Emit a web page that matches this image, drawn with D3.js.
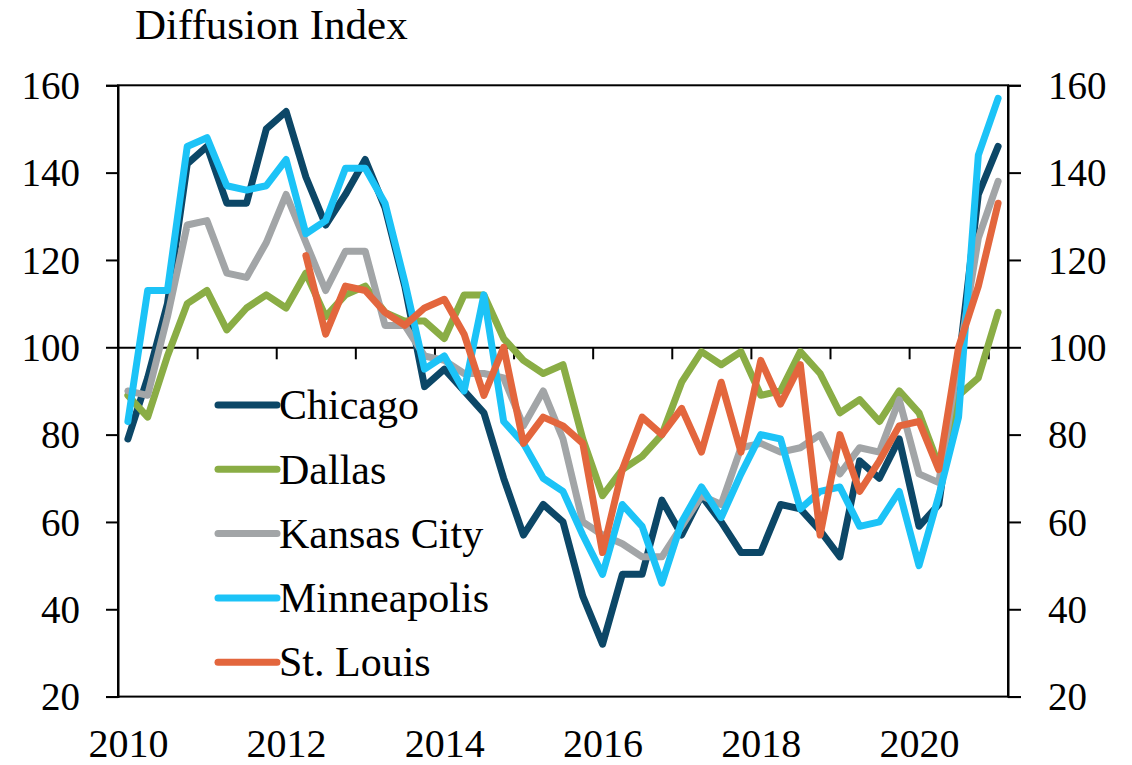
<!DOCTYPE html>
<html>
<head>
<meta charset="utf-8">
<script src="https://cdn.jsdelivr.net/npm/d3@7"></script>
<style>
  body { margin: 0; background: #fff; }
  text { font-family: "Liberation Serif", "Times New Roman", serif; fill: #000; }
</style>
</head>
<body>
<svg id="chart" width="1132" height="765"></svg>
<script>
// quarterly, 2010Q1 .. 2021Q1
const quarters = d3.range(45).map(i => `${2010 + Math.floor(i / 4)}Q${i % 4 + 1}`);
const yearLabels = ["2010", "2012", "2014", "2016", "2018", "2020"];
const yTicks = [20, 40, 60, 80, 100, 120, 140, 160];

const seriesNames = ["Chicago", "Dallas", "Kansas City", "Minneapolis", "St. Louis"];
const seriesColors = ["#0c4767", "#8aad45", "#a2a5a7", "#1cc3f7", "#e3663d"];

const chicago = [79, 93, 110, 142, 146, 133, 133, 150, 154, 139, 128, 135, 143, 132, 114, 91,
  95, 90, 85, 70, 57, 64, 60, 43, 32, 48, 48, 65, 57, 66, 60, 53, 53, 64, 63, 58, 52, 74, 70, 79,
  59, 64, 96, 135, 146];
const dallas = [89, 84, 98, 110, 113, 104, 109, 112, 109, 117, 107, 112, 114, 108, 106, 106,
  102, 112, 112, 102, 97, 94, 96, 79, 66, 72, 75, 80, 92, 99, 96, 99, 89, 90, 99, 94, 85, 88, 83,
  90, 85, 73, 89, 93, 108];
const kansasCity = [90, 89, 107, 128, 129, 117, 116, 124, 135, 124, 113, 122, 122, 105, 105, 98,
  97, 94, 94, 93, 82, 90, 79, 60, 57, 55, 52, 52, 59, 66, 64, 77, 78, 76, 77, 80, 71, 77, 76, 88,
  71, 69, 97, 125, 138];
const minneapolis = [83, 113, 113, 146, 148, 137, 136, 137, 143, 126, 129, 141, 141, 133, 115, 95,
  98, 90, 112, 83, 78, 70, 67, 57, 48, 64, 59, 46, 60, 68, 61, 71, 80, 79, 63, 67, 68, 59, 60, 67,
  50, 66, 84, 144, 157];
const stLouis = [null, null, null, null, null, null, null, null, null, 121, 103, 114, 113, 108,
  105, 109, 111, 103, 89, 100, 78, 84, 82, 78, 53, 72, 84, 80, 86, 76, 92, 76, 97, 87, 96, 57, 80,
  67, 74, 82, 83, 72, 100, 114, 133];

const seriesValues = [chicago, dallas, kansasCity, minneapolis, stLouis];

const margin = { left: 118, right: 1008, top: 85.3, bottom: 696.6 };

const svg = d3.select("#chart");

// x: band boundaries on a linear scale, points at band centres
const x = d3.scaleLinear().domain([0, quarters.length]).range([margin.left, margin.right]);
const y = d3.scaleLinear().domain([20, 160]).range([margin.bottom, margin.top]);

// plot border
svg.append("rect")
    .attr("x", margin.left).attr("y", margin.top)
    .attr("width", margin.right - margin.left).attr("height", margin.bottom - margin.top)
    .attr("fill", "none").attr("stroke", "#000").attr("stroke-width", 2);

// left axis
const yLeft = svg.append("g")
    .attr("transform", `translate(${margin.left},0)`)
    .call(d3.axisLeft(y).tickValues(yTicks).tickSize(12).tickPadding(26));
// right axis
const yRight = svg.append("g")
    .attr("transform", `translate(${margin.right},0)`)
    .call(d3.axisRight(y).tickValues(yTicks).tickSize(13).tickPadding(27));

[yLeft, yRight].forEach(g => {
    g.selectAll("path, line").attr("stroke", "#000").attr("stroke-width", 2);
    g.selectAll("text").style("font-size", "39px").attr("dy", "0.34em");
});

// category axis crossing at 100
const xAxis = svg.append("g")
    .attr("transform", `translate(0,${y(100)})`)
    .call(d3.axisBottom(x)
        .tickValues(d3.range(4, quarters.length, 4))
        .tickFormat("")
        .tickSize(12)
        .tickSizeOuter(0));
xAxis.selectAll("path, line").attr("stroke", "#000").attr("stroke-width", 2);

// year labels at the bottom
const labelQuarters = yearLabels.map(yr => quarters.indexOf(yr + "Q1"));
const xLabels = svg.append("g")
    .attr("transform", `translate(0,${margin.bottom})`)
    .call(d3.axisBottom(x)
        .tickValues(labelQuarters.map(i => i + 0.5))
        .tickFormat((d, i) => yearLabels[i])
        .tickSize(0)
        .tickPadding(32));
xLabels.select(".domain").remove();
xLabels.selectAll("text").style("font-size", "40px");

// lines
const line = d3.line()
    .defined(d => d != null)
    .x((d, i) => x(i + 0.5))
    .y(d => y(d));

seriesValues.forEach((vals, k) => {
    svg.append("path")
        .datum(vals)
        .attr("fill", "none")
        .attr("stroke", seriesColors[k])
        .attr("stroke-width", 7)
        .attr("stroke-linejoin", "round")
        .attr("stroke-linecap", "round")
        .attr("d", line);
});

// legend
const legend = svg.append("g").attr("transform", "translate(218,405)");
seriesNames.forEach((name, k) => {
    const row = legend.append("g").attr("transform", `translate(0,${k * 64.3})`);
    row.append("line")
        .attr("x1", 0).attr("x2", 59)
        .attr("stroke", seriesColors[k])
        .attr("stroke-width", 7)
        .attr("stroke-linecap", "round");
    row.append("text")
        .attr("x", 61).attr("dy", "0.34em")
        .style("font-size", "42px")
        .text(name);
});

// title
svg.append("text")
    .attr("x", 135).attr("y", 39)
    .style("font-size", "43px")
    .text("Diffusion Index");
</script>
</body>
</html>
